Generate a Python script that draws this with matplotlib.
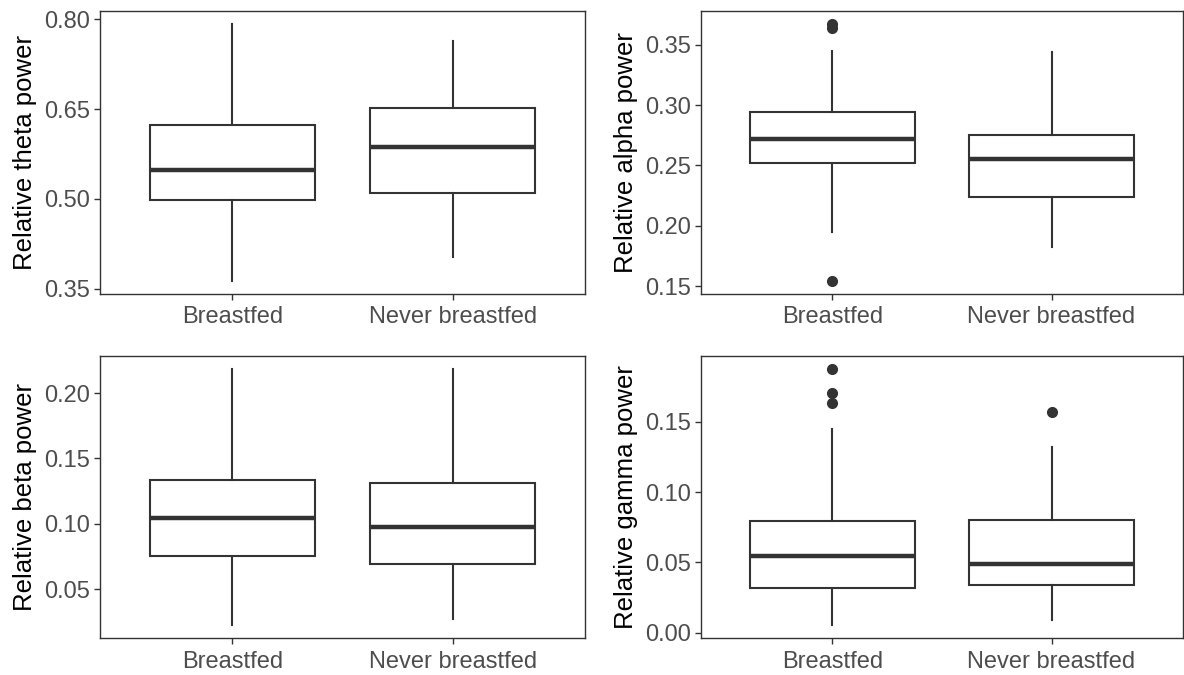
"""Relative EEG band power, breastfed vs never breastfed (2x2 box plots).

Box statistics were read off the published figure, so the boxes are drawn
with ax.bxp from precomputed stats rather than from raw samples.
"""
from __future__ import annotations

import matplotlib
matplotlib.use("Agg")
import matplotlib.pyplot as plt

plt.rcParams["font.family"] = ["Liberation Sans", "DejaVu Sans"]

# ---------------------------------------------------------------- data
groups = ["Breastfed", "Never breastfed"]

# each: [whisker low, Q1, median, Q3, whisker high] per group
theta_stats = [[0.363, 0.498, 0.549, 0.623, 0.792],
               [0.403, 0.510, 0.586, 0.651, 0.764]]
alpha_stats = [[0.195, 0.252, 0.272, 0.294, 0.345],
               [0.182, 0.224, 0.255, 0.275, 0.344]]
beta_stats = [[0.0225, 0.0757, 0.1043, 0.1333, 0.2181],
              [0.0273, 0.0696, 0.0979, 0.1312, 0.2186]]
gamma_stats = [[0.0054, 0.0321, 0.0542, 0.0795, 0.1450],
               [0.0094, 0.0337, 0.0491, 0.0800, 0.1321]]

theta_outliers = [[], []]
alpha_outliers = [[0.1541, 0.3638, 0.3673], []]
beta_outliers = [[], []]
gamma_outliers = [[0.1630, 0.1700, 0.1875], [0.1566]]

theta_ticks = [0.35, 0.50, 0.65, 0.80]
alpha_ticks = [0.15, 0.20, 0.25, 0.30, 0.35]
beta_ticks = [0.05, 0.10, 0.15, 0.20]
gamma_ticks = [0.00, 0.05, 0.10, 0.15]

ylabels = ["Relative theta power", "Relative alpha power",
           "Relative beta power", "Relative gamma power"]

DARK = "#333333"
TICK_TEXT = "#4D4D4D"
W, H = 1184, 675


def px_axes(fig, left, top, right, bottom):
    """Add axes given a pixel box (origin top-left)."""
    return fig.add_axes([left / W, 1 - bottom / H, (right - left) / W, (bottom - top) / H])


def draw_panel(ax, stats, outliers, ticks, ylabel):
    bxp_stats = []
    for lab, (lo, q1, med, q3, hi), fl in zip(groups, stats, outliers):
        bxp_stats.append(dict(label=lab, whislo=lo, q1=q1, med=med, q3=q3,
                              whishi=hi, fliers=fl))
    ax.bxp(bxp_stats, positions=[1, 2], widths=0.75, patch_artist=True,
           showcaps=False,
           boxprops=dict(facecolor="white", edgecolor=DARK, linewidth=1.5),
           whiskerprops=dict(color=DARK, linewidth=1.5),
           medianprops=dict(color=DARK, linewidth=3.2, solid_capstyle="butt"),
           flierprops=dict(marker="o", markerfacecolor=DARK, markeredgecolor=DARK,
                           markersize=7, linestyle="none"))

    # ggplot-style 5% expansion around all drawn values
    vals = [v for s in stats for v in (s[0], s[4])] + [v for fl in outliers for v in fl]
    lo, hi = min(vals), max(vals)
    pad = (hi - lo) * 0.05
    ax.set_ylim(lo - pad, hi + pad)
    ax.set_xlim(0.4, 2.6)

    ax.set_yticks(ticks)
    ax.set_yticklabels([f"{t:.2f}" for t in ticks])
    ax.set_xticks([1, 2])
    ax.set_xticklabels(groups)
    ax.tick_params(axis="both", colors=DARK, labelcolor=TICK_TEXT, labelsize=17,
                   length=4, width=1.0, pad=3)
    ax.tick_params(axis="x", pad=5)
    ax.set_ylabel(ylabel, fontsize=18.5, color="black", labelpad=5)
    for sp in ax.spines.values():
        sp.set_color(DARK)
        sp.set_linewidth(1.0)


def main() -> None:
    fig = plt.figure(figsize=(W / 100, H / 100), dpi=100)

    boxes = [(100, 11, 585, 294), (701, 11, 1183, 294),
             (100, 356, 585, 638), (701, 356, 1183, 638)]
    panels = [(theta_stats, theta_outliers, theta_ticks),
              (alpha_stats, alpha_outliers, alpha_ticks),
              (beta_stats, beta_outliers, beta_ticks),
              (gamma_stats, gamma_outliers, gamma_ticks)]

    for box, (st, fl, tk), yl in zip(boxes, panels, ylabels):
        ax = px_axes(fig, *box)
        draw_panel(ax, st, fl, tk, yl)

    fig.savefig("out.png", dpi=100, facecolor="white")


if __name__ == "__main__":
    main()
